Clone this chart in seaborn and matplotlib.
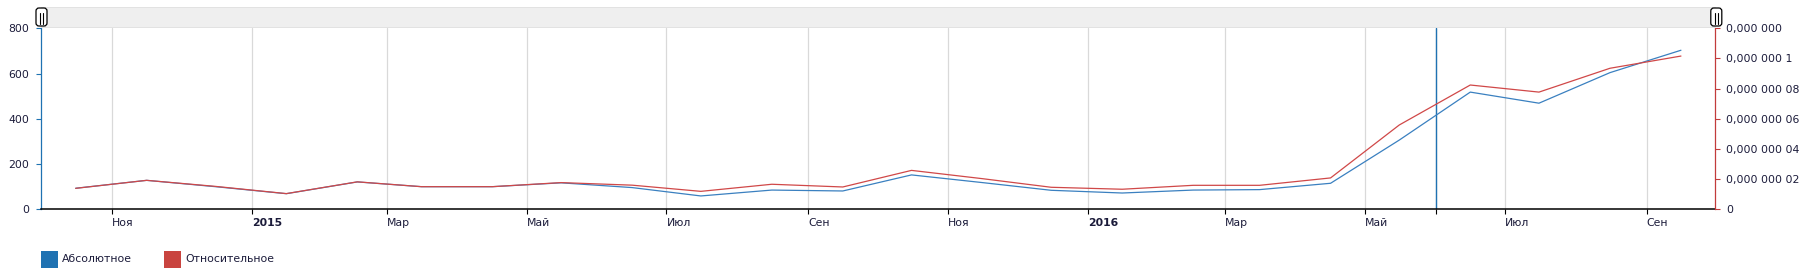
import numpy as np
import pandas as pd
import matplotlib
matplotlib.use("Agg")
import matplotlib.pyplot as plt
import matplotlib.dates as mdates
import matplotlib.transforms as mtrans
from matplotlib.patches import Rectangle, FancyBboxPatch
from matplotlib.lines import Line2D
import seaborn as sns

# ---------------- data ----------------
months = ["2014-10", "2014-11", "2014-12", "2015-01", "2015-02", "2015-03",
          "2015-04", "2015-05", "2015-06", "2015-07", "2015-08", "2015-09",
          "2015-10", "2015-11", "2015-12", "2016-01", "2016-02", "2016-03",
          "2016-04", "2016-05", "2016-06", "2016-07", "2016-08", "2016-09"]
absolute = [93, 128, 100, 69, 121, 100, 100, 117, 96, 59, 85, 81,
            152, 118, 84, 72, 85, 87, 115, 306, 518, 469, 604, 703]
relative = [1.39e-8, 1.92e-8, 1.52e-8, 1.04e-8, 1.82e-8, 1.50e-8,
            1.50e-8, 1.77e-8, 1.60e-8, 1.19e-8, 1.66e-8, 1.48e-8,
            2.58e-8, 2.03e-8, 1.46e-8, 1.33e-8, 1.59e-8, 1.59e-8,
            2.08e-8, 5.59e-8, 8.24e-8, 7.77e-8, 9.35e-8, 10.16e-8]
series_names = ["Абсолютное", "Относительное"]

tick_dates = ["2014-11-01", "2015-01-01", "2015-03-01", "2015-05-01",
              "2015-07-01", "2015-09-01", "2015-11-01", "2016-01-01",
              "2016-03-01", "2016-05-01", "2016-07-01", "2016-09-01"]
tick_labels = ["Ноя", "2015", "Мар", "Май", "Июл", "Сен",
               "Ноя", "2016", "Мар", "Май", "Июл", "Сен"]
year_labels = ["2015", "2016"]
marker_date = "2016-06-01"
x_range = ["2014-10-01", "2016-10-01"]

left_ticks = [0, 200, 400, 600, 800]
left_labels = ["0", "200", "400", "600", "800"]
right_ticks = [0, 2e-8, 4e-8, 6e-8, 8e-8, 1e-7, 1.2e-7]
right_labels = ["0", "0,000 000 02", "0,000 000 04", "0,000 000 06",
                "0,000 000 08", "0,000 000 1", "0,000 000"]

# ---------------- style ----------------
sns.set_style("white")
plt.rcParams["font.family"] = ["DejaVu Sans"]

BLUE = "#1f72b2"
RED = "#c23b3b"
LINE_BLUE = "#3a80c0"
LINE_RED = "#d04848"
TXT = "#1b1b3a"
GRID = "#d9d9d9"
FS = 7.8

W, H = 1804, 272
fig = plt.figure(figsize=(W / 100, H / 100), dpi=100)
fig.patch.set_facecolor("white")

x0, x1 = 41.3, 1715.3
y_top, y_bot = 28.3, 209.3
ax = fig.add_axes([x0 / W, (H - y_bot) / H, (x1 - x0) / W, (y_bot - y_top) / H])

df = pd.DataFrame({
    "date": pd.to_datetime(months) + pd.Timedelta(days=15),
    "abs": absolute,
    "rel": relative,
})

ax.axvline(pd.Timestamp(marker_date), color=BLUE, lw=1.0, zorder=1)
sns.lineplot(data=df, x="date", y="abs", ax=ax, color=LINE_BLUE, lw=0.9, zorder=3)
ax2 = ax.twinx()
sns.lineplot(data=df, x="date", y="rel", ax=ax2, color=LINE_RED, lw=0.9, zorder=3)

ax.set_xlim(pd.Timestamp(x_range[0]), pd.Timestamp(x_range[1]))
ax.set_ylim(0, 800)
ax2.set_ylim(0, 1.2e-7)
for a in (ax, ax2):
    a.set_xlabel("")
    a.set_ylabel("")

# x ticks
tpos = [mdates.date2num(pd.Timestamp(d)) for d in tick_dates] + \
       [mdates.date2num(pd.Timestamp(marker_date))]
ax.set_xticks(tpos)
ax.set_xticklabels(tick_labels + [""])
offset = mtrans.ScaledTranslation(3 / 100, 0, fig.dpi_scale_trans)
for lab in ax.get_xticklabels():
    lab.set_horizontalalignment("left")
    lab.set_transform(lab.get_transform() + offset)
    if lab.get_text() in year_labels:
        lab.set_fontweight("bold")
ax.tick_params(axis="x", direction="out", color="black", length=3.6, width=0.8,
               pad=3, labelsize=FS, labelcolor=TXT, bottom=True)
ax.grid(axis="x", color=GRID, lw=0.9, zorder=0)
ax.grid(axis="y", visible=False)

# y ticks
ax.set_yticks(left_ticks)
ax.set_yticklabels(left_labels)
ax.tick_params(axis="y", direction="out", color=BLUE, length=3.6, width=0.8,
               pad=5, labelsize=FS, labelcolor=TXT, left=True)
ax2.set_yticks(right_ticks)
ax2.set_yticklabels(right_labels)
ax2.tick_params(axis="y", direction="out", color=RED, length=3.6, width=0.8,
                pad=4.3, labelsize=FS, labelcolor=TXT, right=True)
ax2.grid(False)

# spines
ax.spines["top"].set_visible(False)
ax.spines["right"].set_visible(False)
ax.spines["left"].set_color(BLUE)
ax.spines["left"].set_linewidth(0.9)
ax.spines["bottom"].set_color("black")
ax.spines["bottom"].set_linewidth(1.1)
for s in ("top", "left", "bottom"):
    ax2.spines[s].set_visible(False)
ax2.spines["right"].set_color(RED)
ax2.spines["right"].set_linewidth(0.9)

# scrollbar band
px = fig.dpi_scale_trans
fig.add_artist(Rectangle((x0 / 100, (H - 27.3) / 100), (x1 - x0) / 100, 20 / 100,
                         transform=px, facecolor="#efefef", edgecolor="#e2e2e2",
                         lw=0.7, zorder=1))
for cx in (41.5, 1716.3):
    fig.add_artist(FancyBboxPatch(((cx - 5.5) / 100, (H - 26) / 100), 11 / 100, 18 / 100,
                                  boxstyle="round,pad=0,rounding_size=0.03",
                                  transform=px, facecolor="white", edgecolor="black",
                                  lw=0.9, zorder=5))
    for dx in (-1.6, 1.6):
        fig.add_artist(Line2D([(cx + dx) / 100] * 2, [(H - 23.5) / 100, (H - 12.5) / 100],
                              transform=px, color="black", lw=0.8, zorder=6))

# legend
for xr, xt, col, name in ((41, 62, BLUE, series_names[0]),
                          (164, 185, "#c9443f", series_names[1])):
    fig.add_artist(Rectangle((xr / 100, (H - 268) / 100), 17 / 100, 17 / 100,
                             transform=px, facecolor=col, edgecolor="none"))
    fig.text(xt / 100, (H - 259.5) / 100, name, transform=px, fontsize=FS,
             color=TXT, va="center", ha="left")

fig.savefig("out.png", dpi=100, facecolor="white")
